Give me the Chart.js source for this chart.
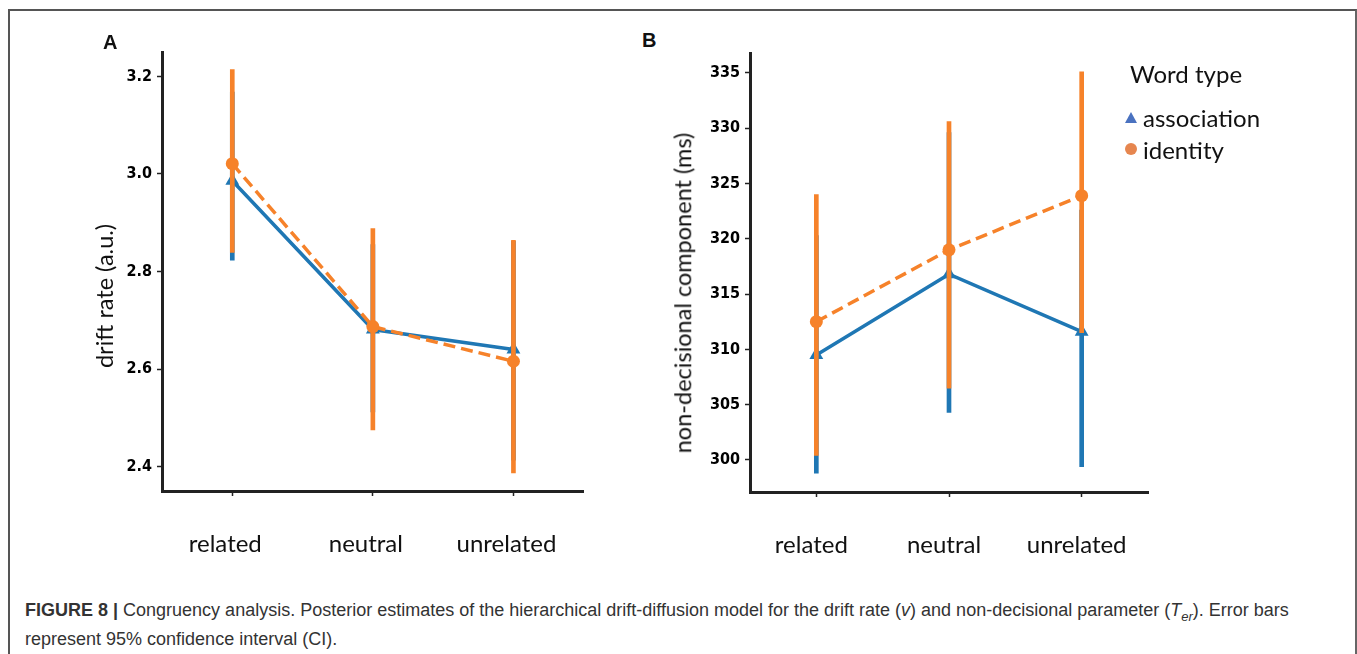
<!DOCTYPE html>
<html>
<head>
<meta charset="utf-8">
<script src="https://cdn.jsdelivr.net/npm/chart.js@4.4.1/dist/chart.umd.min.js"></script>
<style>
  body { margin: 0; background: #fff; }
  #page { position: relative; width: 1357px; height: 654px; overflow: hidden; }
  #frame { position: absolute; left: 8px; top: 9px; width: 1345px; height: 700px;
           border-left: 2px solid #555; border-top: 2px solid #555; border-right: 2px solid #666; }
  canvas { position: absolute; }
  .letter { position: absolute; font: bold 20px "Liberation Sans", Arial, sans-serif; line-height: 1; color: #111; }
  .ytitle { position: absolute; font: 23.5px Lato, sans-serif; color: #111; white-space: nowrap;
            transform: translate(-50%, -50%) rotate(-90deg); line-height: 1; }
  .lg { position: absolute; font: 24px Lato, sans-serif; color: #111; white-space: nowrap;
        transform: translateY(-50%); line-height: 1; }
  .tri { position: absolute; width: 0; height: 0; border-left: 6px solid transparent;
         border-right: 6px solid transparent; border-bottom: 11px solid #4a72c0; }
  .dot { position: absolute; width: 12px; height: 12px; border-radius: 50%; background: #e6864f; }
  #caption { position: absolute; left: 25px; top: 599px; font: 18px "Liberation Sans", Arial, sans-serif;
             line-height: 22px; color: #333; white-space: nowrap; }
</style>
</head>
<body>
<div id="page">
  <div id="frame"></div>
  <canvas id="chartA" width="520" height="548" style="left:80px;top:32px"></canvas>
  <canvas id="chartB" width="510" height="548" style="left:660px;top:33px"></canvas>
  <div class="letter" style="left:103px;top:32px">A</div>
  <div class="letter" style="left:642px;top:30px">B</div>
  <div class="ytitle" style="left:105px;top:296px">drift rate (a.u.)</div>
  <div class="ytitle" style="left:683px;top:293px">non-decisional component (ms)</div>
  <div class="lg" style="left:1130px;top:74px">Word type</div>
  <span class="tri" style="left:1125px;top:112px"></span>
  <div class="lg" style="left:1143px;top:118px">association</div>
  <span class="dot" style="left:1125px;top:143px"></span>
  <div class="lg" style="left:1143px;top:150px">identity</div>
  <div id="caption"><b>FIGURE 8 |</b> Congruency analysis. Posterior estimates of the hierarchical drift-diffusion model for the drift rate (<i>v</i>) and non-decisional parameter (<i>T<sub style="font-size:13px">er</sub></i>). Error bars<br>represent 95% confidence interval (CI).</div>
</div>

<script>
// categories on the x axis (same for both panels)
const categories = ['related', 'neutral', 'unrelated'];

// ----- panel A: drift rate -----
const driftAssoc = [2.986, 2.681, 2.640];
const driftAssocCI = [[2.823, 3.168], [2.512, 2.855], [2.413, 2.862]];
const driftIdent = [3.021, 2.687, 2.616];
const driftIdentCI = [[2.839, 3.214], [2.475, 2.888], [2.387, 2.864]];
const driftTicks = [2.4, 2.6, 2.8, 3.0, 3.2];

// ----- panel B: non-decisional component (ms) -----
const nonDecAssoc = [309.5, 316.8, 311.6];
const nonDecAssocCI = [[298.8, 320.3], [304.3, 329.6], [299.4, 322.6]];
const nonDecIdent = [312.5, 319.0, 323.9];
const nonDecIdentCI = [[300.4, 324.0], [306.5, 330.6], [311.5, 335.1]];
const nonDecTicks = [300, 305, 310, 315, 320, 325, 330, 335];

const blue = '#1f77b4';
const orange = '#f6822a';
const axisColor = '#222';

function makePanel(id, assoc, assocCI, ident, identCI, yTicks, yMin, yMax, opts) {
    const ctx = document.getElementById(id).getContext('2d');
    return new Chart(ctx, {
        type: 'bar',
        data: {
            labels: categories,
            datasets: [
                // error bars drawn as thin floating bars
                { type: 'bar', data: assocCI, backgroundColor: blue, barThickness: 4, grouped: false, order: 4 },
                { type: 'line', data: assoc, borderColor: blue, borderWidth: 3.5,
                  pointStyle: 'triangle', pointRadius: 8, pointBackgroundColor: blue, pointBorderWidth: 0, order: 3 },
                { type: 'bar', data: identCI, backgroundColor: orange, barThickness: 4, grouped: false, order: 2 },
                { type: 'line', data: ident, borderColor: orange, borderWidth: 3.5, borderDash: [12, 6],
                  pointStyle: 'circle', pointRadius: 6.5, pointBackgroundColor: orange, pointBorderWidth: 0, order: 1 }
            ]
        },
        options: {
            responsive: false,
            animation: false,
            layout: { padding: { top: 20, right: opts.padRight, left: 0, bottom: 0 } },
            plugins: { legend: { display: false }, tooltip: { enabled: false } },
            scales: {
                x: {
                    offset: true,
                    grid: { display: true, drawOnChartArea: false, offset: false, tickLength: 5, tickWidth: 1.5, color: axisColor },
                    border: { display: true, color: axisColor, width: 3 },
                    ticks: { color: '#111', font: { family: 'Lato', size: 24 }, padding: 34,
                             labelOffset: opts.labelOffset, maxRotation: 0, autoSkip: false },
                    afterFit: (s) => { s.height = 89; }
                },
                y: {
                    min: yMin,
                    max: yMax,
                    afterBuildTicks: (s) => { s.ticks = yTicks.map(v => ({ value: v })); },
                    grid: { display: true, drawOnChartArea: false, tickLength: 5, tickWidth: 1.5, color: axisColor },
                    border: { display: true, color: axisColor, width: 3 },
                    ticks: { color: '#000', font: { family: "'DejaVu Sans Condensed', 'DejaVu Sans'", weight: 'bold', size: 16 },
                             padding: 5, callback: (v) => v.toFixed(opts.decimals) },
                    afterFit: (s) => { s.width = opts.yWidth; }
                }
            }
        }
    });
}

makePanel('chartA', driftAssoc, driftAssocCI, driftIdent, driftIdentCI, driftTicks, 2.35, 3.25,
          { padRight: 16, yWidth: 82, decimals: 1, labelOffset: -7 });
makePanel('chartB', nonDecAssoc, nonDecAssocCI, nonDecIdent, nonDecIdentCI, nonDecTicks, 297.1, 336.8,
          { padRight: 22, yWidth: 90, decimals: 0, labelOffset: -5 });
</script>
</body>
</html>
